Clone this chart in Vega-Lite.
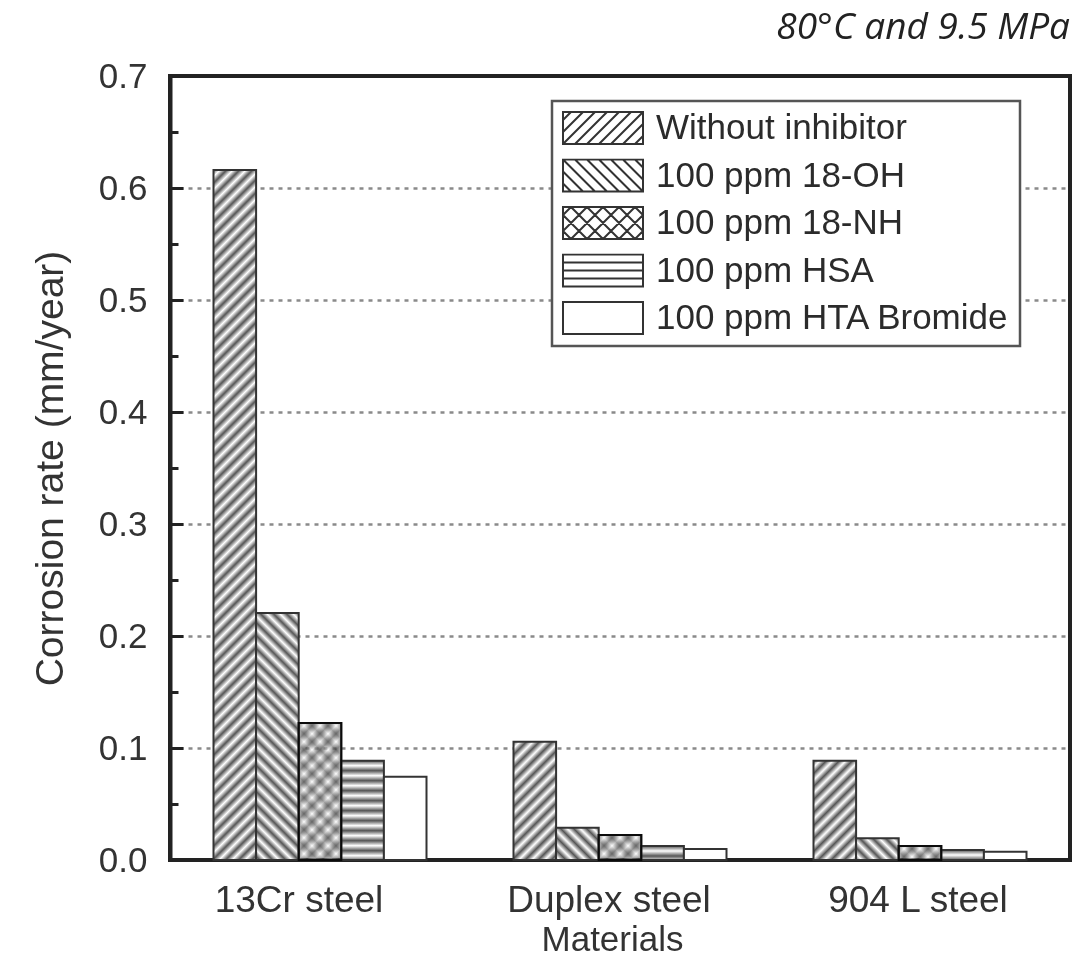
{
  "$schema": "https://vega.github.io/schema/vega-lite/v6.json",
  "width": 900,
  "height": 784,
  "autosize": {"type": "none"},
  "padding": {"left": 170, "top": 76, "right": 19, "bottom": 120},
  "background": "white",
  "title": {
    "text": "80°C and 9.5 MPa",
    "anchor": "end",
    "frame": "group",
    "font": "Open Sans",
    "fontStyle": "italic",
    "fontWeight": "normal",
    "fontSize": 37,
    "color": "#222",
    "baseline": "alphabetic",
    "offset": -17
  },
  "config": {
    "view": {"stroke": "#222", "strokeWidth": 4},
    "font": "Liberation Sans",
    "legend": {"strokeWidth": 2.5}
  },
  "params": [
    {
      "name": "hatch",
      "value": [
        {"offset":0,"color":"#555"},{"offset":0.008,"color":"#fff"},{"offset":0.016,"color":"#555"},{"offset":0.024,"color":"#fff"},
        {"offset":0.032,"color":"#555"},{"offset":0.04,"color":"#fff"},{"offset":0.048,"color":"#555"},{"offset":0.056,"color":"#fff"},
        {"offset":0.064,"color":"#555"},{"offset":0.072,"color":"#fff"},{"offset":0.08,"color":"#555"},{"offset":0.088,"color":"#fff"},
        {"offset":0.096,"color":"#555"},{"offset":0.104,"color":"#fff"},{"offset":0.112,"color":"#555"},{"offset":0.12,"color":"#fff"},
        {"offset":0.128,"color":"#555"},{"offset":0.136,"color":"#fff"},{"offset":0.144,"color":"#555"},{"offset":0.152,"color":"#fff"},
        {"offset":0.16,"color":"#555"},{"offset":0.168,"color":"#fff"},{"offset":0.176,"color":"#555"},{"offset":0.184,"color":"#fff"},
        {"offset":0.192,"color":"#555"},{"offset":0.2,"color":"#fff"},{"offset":0.208,"color":"#555"},{"offset":0.216,"color":"#fff"},
        {"offset":0.224,"color":"#555"},{"offset":0.232,"color":"#fff"},{"offset":0.24,"color":"#555"},{"offset":0.248,"color":"#fff"},
        {"offset":0.256,"color":"#555"},{"offset":0.264,"color":"#fff"},{"offset":0.272,"color":"#555"},{"offset":0.28,"color":"#fff"},
        {"offset":0.288,"color":"#555"},{"offset":0.296,"color":"#fff"},{"offset":0.304,"color":"#555"},{"offset":0.312,"color":"#fff"},
        {"offset":0.32,"color":"#555"},{"offset":0.328,"color":"#fff"},{"offset":0.336,"color":"#555"},{"offset":0.344,"color":"#fff"},
        {"offset":0.352,"color":"#555"},{"offset":0.36,"color":"#fff"},{"offset":0.368,"color":"#555"},{"offset":0.376,"color":"#fff"},
        {"offset":0.384,"color":"#555"},{"offset":0.392,"color":"#fff"},{"offset":0.4,"color":"#555"},{"offset":0.408,"color":"#fff"},
        {"offset":0.416,"color":"#555"},{"offset":0.424,"color":"#fff"},{"offset":0.432,"color":"#555"},{"offset":0.44,"color":"#fff"},
        {"offset":0.448,"color":"#555"},{"offset":0.456,"color":"#fff"},{"offset":0.464,"color":"#555"},{"offset":0.472,"color":"#fff"},
        {"offset":0.48,"color":"#555"},{"offset":0.488,"color":"#fff"},{"offset":0.496,"color":"#555"},{"offset":0.504,"color":"#fff"},
        {"offset":0.512,"color":"#555"},{"offset":0.52,"color":"#fff"},{"offset":0.528,"color":"#555"},{"offset":0.536,"color":"#fff"},
        {"offset":0.544,"color":"#555"},{"offset":0.552,"color":"#fff"},{"offset":0.56,"color":"#555"},{"offset":0.568,"color":"#fff"},
        {"offset":0.576,"color":"#555"},{"offset":0.584,"color":"#fff"},{"offset":0.592,"color":"#555"},{"offset":0.6,"color":"#fff"},
        {"offset":0.608,"color":"#555"},{"offset":0.616,"color":"#fff"},{"offset":0.624,"color":"#555"},{"offset":0.632,"color":"#fff"},
        {"offset":0.64,"color":"#555"},{"offset":0.648,"color":"#fff"},{"offset":0.656,"color":"#555"},{"offset":0.664,"color":"#fff"},
        {"offset":0.672,"color":"#555"},{"offset":0.68,"color":"#fff"},{"offset":0.688,"color":"#555"},{"offset":0.696,"color":"#fff"},
        {"offset":0.704,"color":"#555"},{"offset":0.712,"color":"#fff"},{"offset":0.72,"color":"#555"},{"offset":0.728,"color":"#fff"},
        {"offset":0.736,"color":"#555"},{"offset":0.744,"color":"#fff"},{"offset":0.752,"color":"#555"},{"offset":0.76,"color":"#fff"},
        {"offset":0.768,"color":"#555"},{"offset":0.776,"color":"#fff"},{"offset":0.784,"color":"#555"},{"offset":0.792,"color":"#fff"},
        {"offset":0.8,"color":"#555"},{"offset":0.808,"color":"#fff"},{"offset":0.816,"color":"#555"},{"offset":0.824,"color":"#fff"},
        {"offset":0.832,"color":"#555"},{"offset":0.84,"color":"#fff"},{"offset":0.848,"color":"#555"},{"offset":0.856,"color":"#fff"},
        {"offset":0.864,"color":"#555"},{"offset":0.872,"color":"#fff"},{"offset":0.88,"color":"#555"},{"offset":0.888,"color":"#fff"},
        {"offset":0.896,"color":"#555"},{"offset":0.904,"color":"#fff"},{"offset":0.912,"color":"#555"},{"offset":0.92,"color":"#fff"},
        {"offset":0.928,"color":"#555"},{"offset":0.936,"color":"#fff"},{"offset":0.944,"color":"#555"},{"offset":0.952,"color":"#fff"},
        {"offset":0.96,"color":"#555"},{"offset":0.968,"color":"#fff"},{"offset":0.976,"color":"#555"},{"offset":0.984,"color":"#fff"},
        {"offset":0.992,"color":"#555"},{"offset":1,"color":"#fff"}
      ]
    }
  ],
  "data": {
    "values": [
      {"material": "13Cr steel", "series": "Without inhibitor", "rate": 0.616},
      {"material": "13Cr steel", "series": "100 ppm 18-OH", "rate": 0.2205},
      {"material": "13Cr steel", "series": "100 ppm 18-NH", "rate": 0.1223},
      {"material": "13Cr steel", "series": "100 ppm HSA", "rate": 0.0887},
      {"material": "13Cr steel", "series": "100 ppm HTA Bromide", "rate": 0.0744},
      {"material": "Duplex steel", "series": "Without inhibitor", "rate": 0.1056},
      {"material": "Duplex steel", "series": "100 ppm 18-OH", "rate": 0.0289},
      {"material": "Duplex steel", "series": "100 ppm 18-NH", "rate": 0.0223},
      {"material": "Duplex steel", "series": "100 ppm HSA", "rate": 0.0125},
      {"material": "Duplex steel", "series": "100 ppm HTA Bromide", "rate": 0.0098},
      {"material": "904 L steel", "series": "Without inhibitor", "rate": 0.0887},
      {"material": "904 L steel", "series": "100 ppm 18-OH", "rate": 0.0194},
      {"material": "904 L steel", "series": "100 ppm 18-NH", "rate": 0.0125},
      {"material": "904 L steel", "series": "100 ppm HSA", "rate": 0.0089},
      {"material": "904 L steel", "series": "100 ppm HTA Bromide", "rate": 0.0074}
    ]
  },
  "encoding": {
    "x": {
      "field": "material",
      "type": "nominal",
      "sort": ["13Cr steel", "Duplex steel", "904 L steel"],
      "scale": {"paddingInner": 0.29, "paddingOuter": 0.145},
      "title": "Materials",
      "axis": {
        "ticks": false,
        "domain": false,
        "labelAngle": 0,
        "labelFont": "Liberation Sans",
        "labelFontSize": 37,
        "labelColor": "#333",
        "labelLimit": 400,
        "labelPadding": 22,
        "labelOffset": {
          "condition": [
            {"test": "datum.value == '13Cr steel'", "value": -21},
            {"test": "datum.value == 'Duplex steel'", "value": -11}
          ],
          "value": -2
        },
        "titleFont": "Liberation Sans",
        "titleFontSize": 35,
        "titleFontWeight": "normal",
        "titleColor": "#333",
        "titlePadding": 4,
        "titleX": 442
      }
    },
    "xOffset": {
      "field": "series",
      "type": "nominal",
      "sort": ["Without inhibitor", "100 ppm 18-OH", "100 ppm 18-NH", "100 ppm HSA", "100 ppm HTA Bromide"],
      "scale": {"paddingInner": 0, "paddingOuter": 0}
    },
    "y": {
      "field": "rate",
      "type": "quantitative",
      "stack": null,
      "scale": {"domain": [0, 0.7], "nice": false},
      "title": "Corrosion rate (mm/year)",
      "axis": {
        "values": [0, 0.05, 0.1, 0.15, 0.2, 0.25, 0.3, 0.35, 0.4, 0.45, 0.5, 0.55, 0.6, 0.65, 0.7],
        "labelExpr": "round(datum.value * 20) % 2 == 0 ? format(datum.value, '.1f') : ''",
        "tickSize": {"condition": {"test": "round(datum.value * 20) % 2 == 0", "value": -13}, "value": -8},
        "tickWidth": 3,
        "tickColor": "#222",
        "domain": true,
        "domainColor": "#222",
        "domainWidth": 4,
        "grid": true,
        "gridColor": "#8a8a8a",
        "gridWidth": 2.5,
        "gridDash": [4, 5],
        "gridOpacity": {
          "condition": {"test": "round(datum.value * 20) % 2 == 0 && datum.value > 0.01 && datum.value < 0.69", "value": 1},
          "value": 0
        },
        "labelFont": "Liberation Sans",
        "labelFontSize": 35,
        "labelColor": "#333",
        "labelPadding": 36,
        "titleFont": "Liberation Sans",
        "titleFontSize": 39,
        "titleFontWeight": "normal",
        "titleColor": "#333",
        "titlePadding": 28
      }
    }
  },
  "layer": [
    {
      "mark": {
        "type": "bar",
        "strokeWidth": 2,
        "fillOpacity": {"expr": "datum.series == '100 ppm 18-NH' ? 0.6 : 1"},
        "fill": {
          "expr": "datum.series == 'Without inhibitor' ? {gradient: 'linear', x1: 0, y1: 0, x2: 812.5 * bandwidth('xOffset') / (pow(bandwidth('xOffset'), 2) + pow(scale('y', 0) - scale('y', datum.rate), 2)), y2: 812.5 * (scale('y', 0) - scale('y', datum.rate)) / (pow(bandwidth('xOffset'), 2) + pow(scale('y', 0) - scale('y', datum.rate), 2)), stops: hatch} : datum.series == '100 ppm 18-OH' ? {gradient: 'linear', x1: 1, y1: 0, x2: 1 - 812.5 * bandwidth('xOffset') / (pow(bandwidth('xOffset'), 2) + pow(scale('y', 0) - scale('y', datum.rate), 2)), y2: 812.5 * (scale('y', 0) - scale('y', datum.rate)) / (pow(bandwidth('xOffset'), 2) + pow(scale('y', 0) - scale('y', datum.rate), 2)), stops: hatch} : datum.series == '100 ppm 18-NH' ? {gradient: 'linear', x1: 0, y1: 0, x2: 1000 * bandwidth('xOffset') / (pow(bandwidth('xOffset'), 2) + pow(scale('y', 0) - scale('y', datum.rate), 2)), y2: 1000 * (scale('y', 0) - scale('y', datum.rate)) / (pow(bandwidth('xOffset'), 2) + pow(scale('y', 0) - scale('y', datum.rate), 2)), stops: hatch} : datum.series == '100 ppm HSA' ? {gradient: 'linear', x1: 0, y1: 0, x2: 0, y2: 625 / (scale('y', 0) - scale('y', datum.rate)), stops: hatch} : 'white'"
        }
      },
      "encoding": {
        "stroke": {
          "field": "series",
          "type": "nominal",
          "scale": {
            "domain": ["Without inhibitor", "100 ppm 18-OH", "100 ppm 18-NH", "100 ppm HSA", "100 ppm HTA Bromide"],
            "range": ["#333", "#333", "#333", "#333", "#333"]
          },
          "legend": {
            "title": null,
            "orient": "none",
            "legendX": 382,
            "legendY": 25,
            "symbolType": {
              "expr": "datum.value == 'Without inhibitor' ? 'M-1,-0.4H1V0.4H-1ZM-1,-0.2L-0.8,-0.4M-1,0.1L-0.5,-0.4M-1,0.4L-0.2,-0.4M-0.7,0.4L0.1,-0.4M-0.4,0.4L0.4,-0.4M-0.1,0.4L0.7,-0.4M0.2,0.4L1,-0.4M0.5,0.4L1,-0.1M0.8,0.4L1,0.2' : datum.value == '100 ppm 18-OH' ? 'M-1,-0.4H1V0.4H-1ZM1,-0.2L0.8,-0.4M1,0.1L0.5,-0.4M1,0.4L0.2,-0.4M0.7,0.4L-0.1,-0.4M0.4,0.4L-0.4,-0.4M0.1,0.4L-0.7,-0.4M-0.2,0.4L-1,-0.4M-0.5,0.4L-1,-0.1M-0.8,0.4L-1,0.2' : datum.value == '100 ppm 18-NH' ? 'M-1,-0.4H1V0.4H-1ZM-1,-0.2L-0.8,-0.4M-1,0.2L-0.4,-0.4M-0.8,0.4L0,-0.4M-0.4,0.4L0.4,-0.4M0,0.4L0.8,-0.4M0.4,0.4L1,-0.2M0.8,0.4L1,0.2M1,-0.2L0.8,-0.4M1,0.2L0.4,-0.4M0.8,0.4L0,-0.4M0.4,0.4L-0.4,-0.4M0,0.4L-0.8,-0.4M-0.4,0.4L-1,-0.2M-0.8,0.4L-1,0.2' : datum.value == '100 ppm HSA' ? 'M-1,-0.4H1V0.4H-1ZM-1,-0.2H1M-1,0H1M-1,0.2H1' : 'M-1,-0.4H1V0.4H-1Z'"
            },
            "symbolSize": 6400,
            "symbolStrokeWidth": 2,
            "clipHeight": 34,
            "rowPadding": 12.5,
            "labelFont": "Liberation Sans",
            "labelFontSize": 35,
            "labelColor": "#2b2b2b",
            "labelOffset": 12,
            "labelLimit": 600,
            "padding": 10,
            "strokeColor": "#555",
            "fillColor": "white",
            "encode": {
              "legend": {
                "update": {
                  "strokeWidth": {"value": 2.5}
                }
              },
              "symbols": {
                "update": {
                  "fill": {"value": "white"},
                  "stroke": {"value": "#444"},
                  "strokeWidth": {"value": 2}
                }
              }
            }
          }
        }
      }
    },
    {
      "transform": [{"filter": "datum.series == '100 ppm 18-NH'"}],
      "mark": {
        "type": "bar",
        "stroke": "#333",
        "strokeWidth": 2,
        "blend": "multiply",
        "fillOpacity": 0.5,
        "fill": {
          "expr": "{gradient: 'linear', x1: 1, y1: 0, x2: 1 - 1000 * bandwidth('xOffset') / (pow(bandwidth('xOffset'), 2) + pow(scale('y', 0) - scale('y', datum.rate), 2)), y2: 1000 * (scale('y', 0) - scale('y', datum.rate)) / (pow(bandwidth('xOffset'), 2) + pow(scale('y', 0) - scale('y', datum.rate), 2)), stops: hatch}"
        }
      }
    }
  ]
}
